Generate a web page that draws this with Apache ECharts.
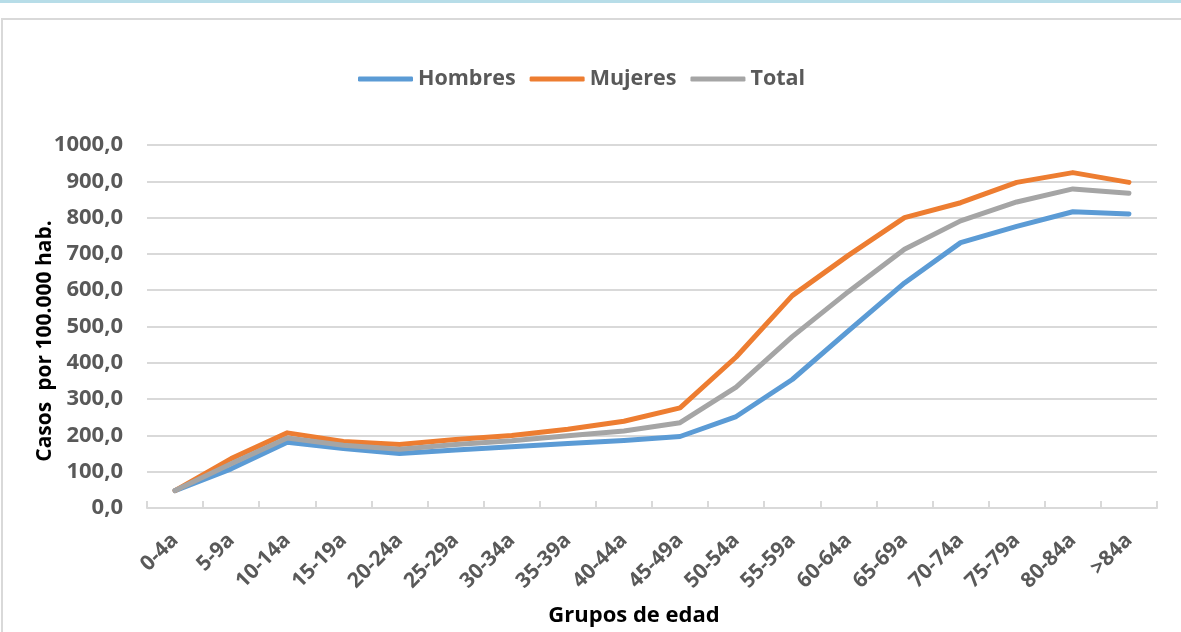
<!DOCTYPE html>
<html>
<head>
<meta charset="utf-8">
<script src="https://cdn.jsdelivr.net/npm/echarts@6/dist/echarts.min.js"></script>
<style>
html,body{margin:0;padding:0;background:#fff;overflow:hidden;}
#chart{width:1181px;height:632px;}
</style>
</head>
<body>
<div id="chart"></div>
<script>
const categories = ['0-4a','5-9a','10-14a','15-19a','20-24a','25-29a','30-34a','35-39a','40-44a','45-49a','50-54a','55-59a','60-64a','65-69a','70-74a','75-79a','80-84a','>84a'];
const hombres = [48, 108, 181, 164, 150, 160, 169, 178, 186, 197, 252, 354, 488, 620, 731, 776, 816, 810];
const mujeres = [48, 136, 207, 183, 175, 189, 200, 217, 239, 276, 416, 585, 696, 800, 841, 897, 924, 897];
const total = [48, 122, 193, 173, 162, 175, 185, 199, 212, 235, 333, 472, 596, 713, 791, 843, 879, 867];
const seriesNames = ['Hombres', 'Mujeres', 'Total'];
const xTitle = 'Grupos de edad';
const yTitle = 'Casos  por 100.000 hab.';

const FONT = 'Open Sans';
const chart = echarts.init(document.getElementById('chart'), null, {renderer: 'canvas', width: 1181, height: 632});
function mk(name, data, color) {
  return {
    name: name, type: 'line', data: data, symbol: 'none', smooth: false,
    lineStyle: {color: color, width: 5, cap: 'round', join: 'round'},
    itemStyle: {color: color},
    emphasis: {disabled: true}
  };
}
chart.setOption({
  animation: false,
  graphic: [
    {type: 'rect', shape: {x: 0, y: 0, width: 1181, height: 3}, style: {fill: '#b7dde8'}, silent: true},
    {type: 'rect', shape: {x: 2, y: 19, width: 1240, height: 700}, style: {fill: 'none', stroke: '#d9d9d9', lineWidth: 2}, silent: true},
    {type: 'text', x: 45, y: 341, rotation: Math.PI / 2, silent: true,
      style: {text: yTitle, fontFamily: FONT, fontWeight: 'bold', fontSize: 21, fill: '#000', align: 'center', verticalAlign: 'middle'}}
  ],
  legend: {
    data: seriesNames,
    left: 353,
    top: 63,
    icon: 'roundRect',
    itemWidth: 55,
    itemHeight: 5,
    itemGap: 14,
    textStyle: {fontFamily: FONT, fontWeight: 'bold', fontSize: 21.5, color: '#595959'}
  },
  grid: {left: 147, width: 1010, top: 145, height: 364, containLabel: false},
  xAxis: {
    type: 'category',
    data: categories,
    boundaryGap: true,
    name: xTitle,
    nameLocation: 'middle',
    nameGap: 97,
    nameTextStyle: {fontFamily: FONT, fontWeight: 'bold', fontSize: 22, color: '#000', padding: [0, 36, 0, 0]},
    axisLine: {lineStyle: {color: '#d9d9d9', width: 2}},
    axisTick: {show: true, inside: true, length: 7, lineStyle: {color: '#d9d9d9', width: 2}},
    axisLabel: {rotate: 45, margin: 29, interval: 0, fontFamily: FONT, fontWeight: 'bold', fontSize: 21, color: '#595959'},
    splitLine: {show: false}
  },
  yAxis: {
    type: 'value',
    min: 0, max: 1000, interval: 100,
    axisLine: {show: false},
    axisTick: {show: false},
    axisLabel: {margin: 24, fontFamily: FONT, fontWeight: 'bold', fontSize: 22, color: '#595959',
      formatter: function (v) { return v.toFixed(1).replace('.', ','); }},
    splitLine: {lineStyle: {color: '#d9d9d9', width: 2}}
  },
  series: [
    mk(seriesNames[0], hombres, '#5b9bd5'),
    mk(seriesNames[1], mujeres, '#ed7d31'),
    mk(seriesNames[2], total, '#a5a5a5')
  ]
});
</script>
</body>
</html>
